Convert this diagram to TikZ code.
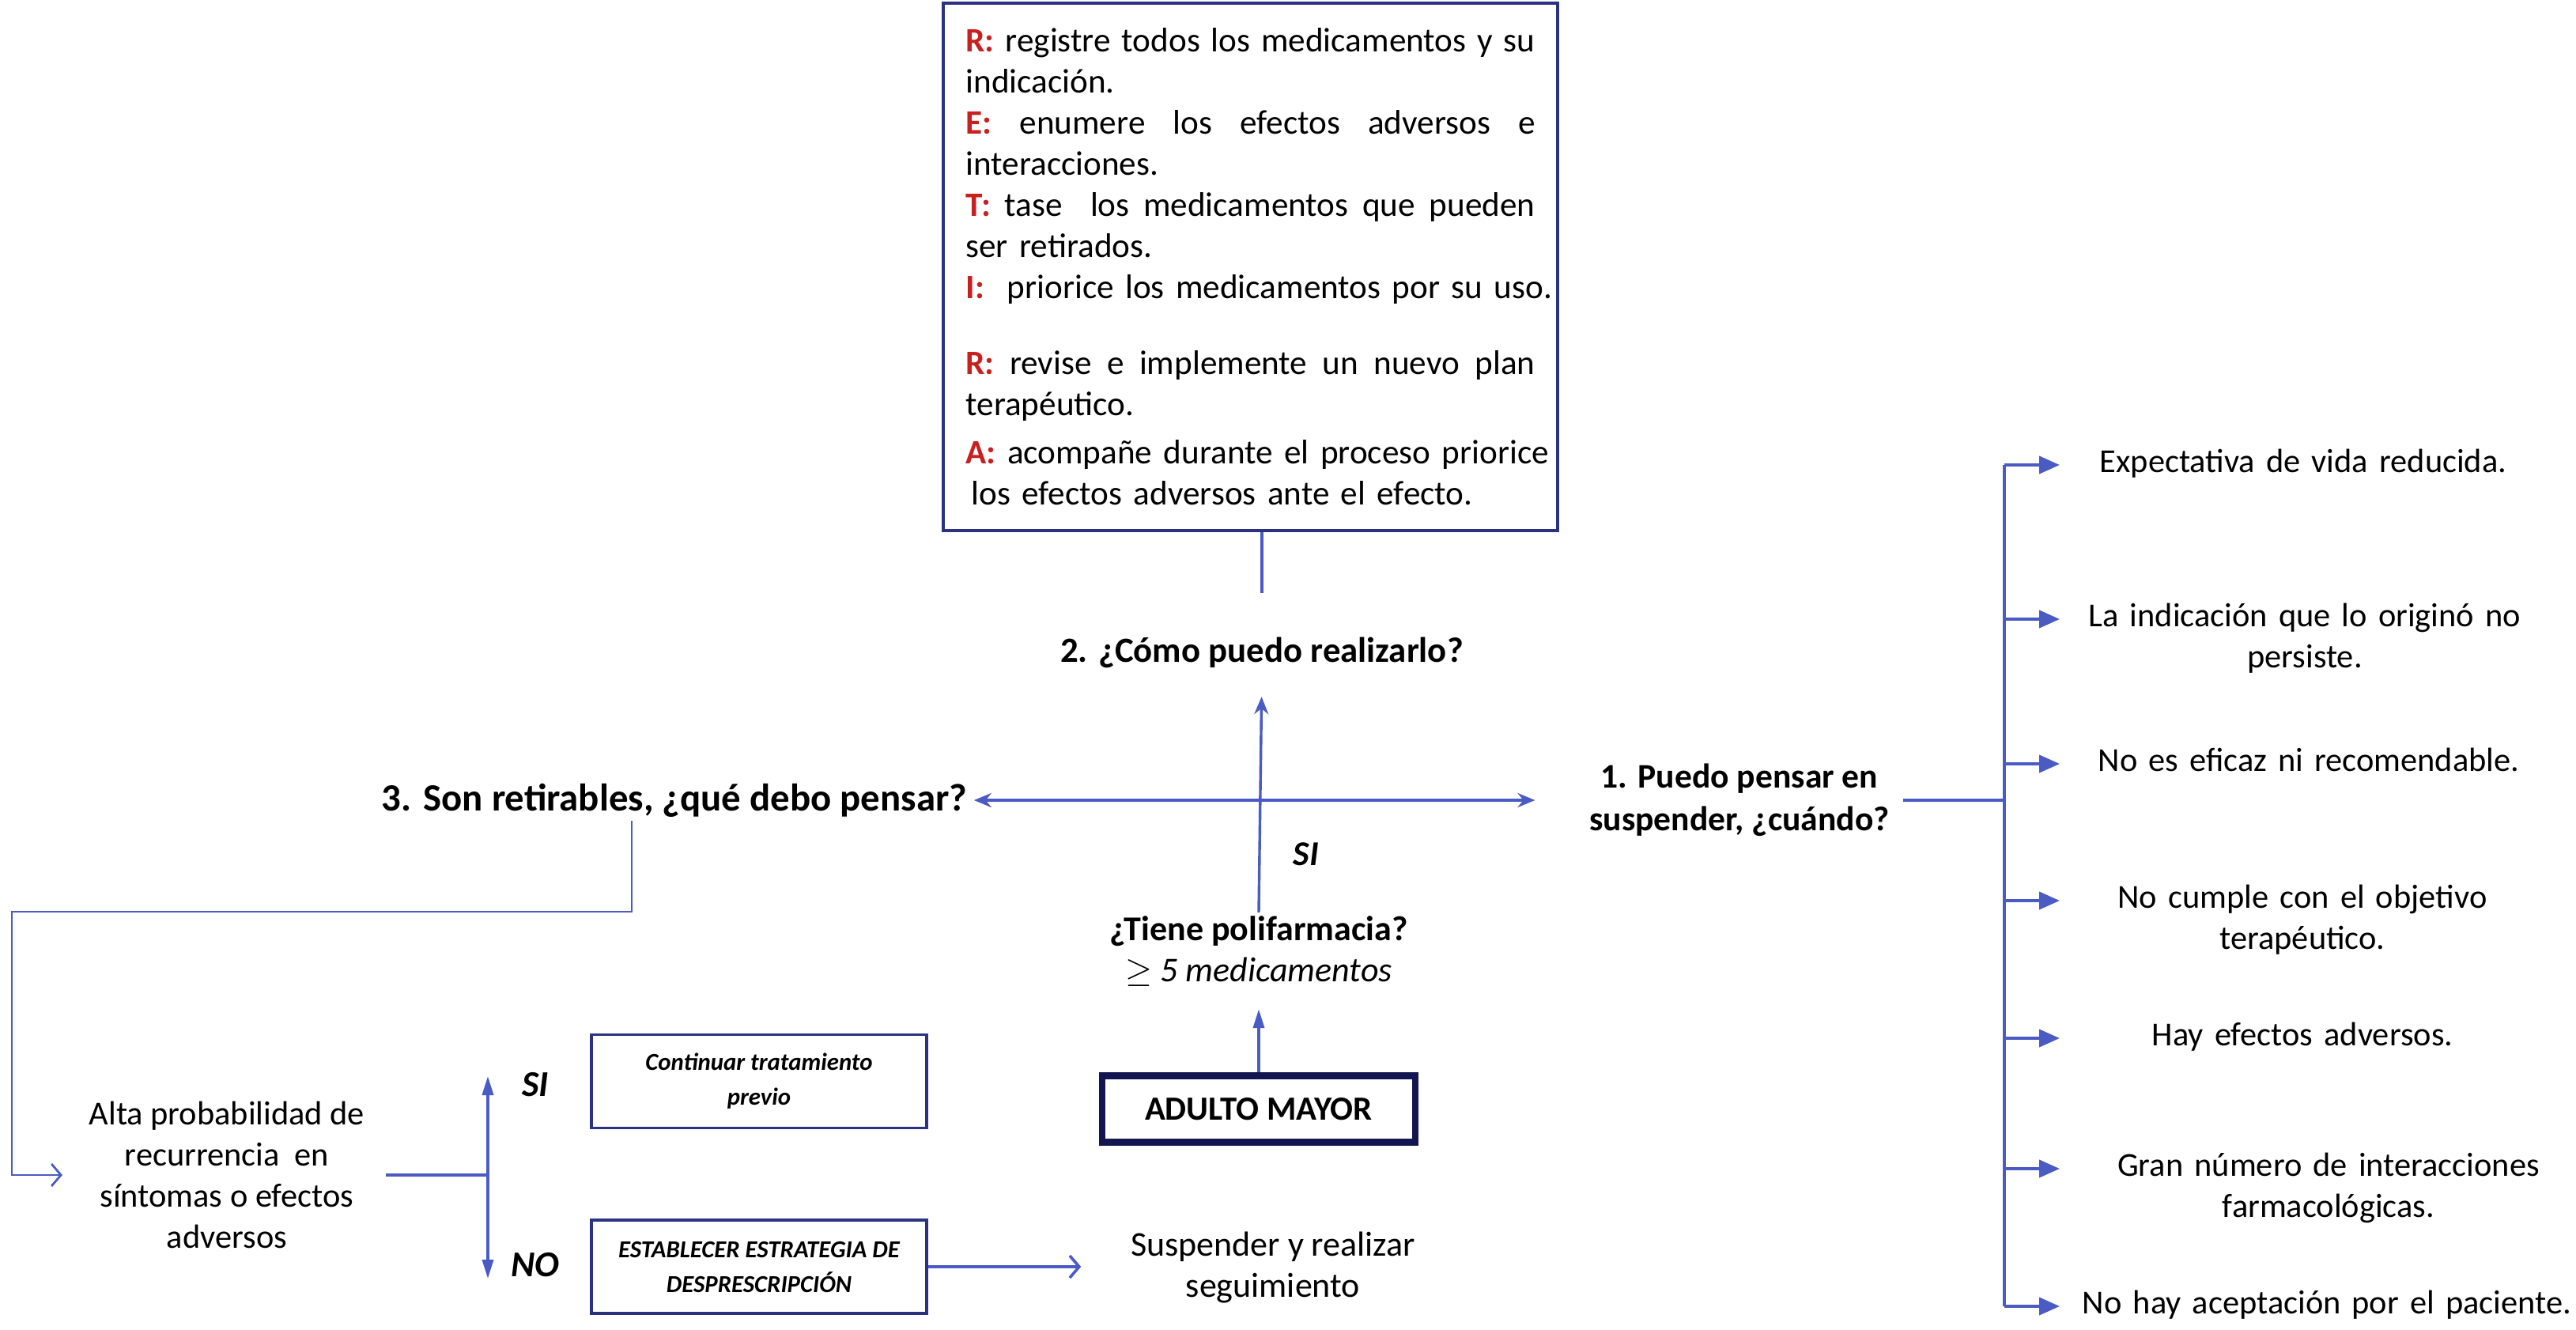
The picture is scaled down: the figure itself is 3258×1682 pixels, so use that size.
\documentclass[tikz,border=0pt]{standalone}
\usepackage{fontspec}
\setmainfont{Carlito}
\usepackage{tikz}
\usetikzlibrary{arrows.meta}
\definecolor{flecha}{HTML}{4A5BC4}
\definecolor{marco}{HTML}{2B3380}
\definecolor{marcof}{HTML}{12154F}
\definecolor{rojo}{HTML}{C8201E}
\newcommand{\letra}[1]{\textcolor{rojo}{\textbf{#1}}}
\newlength{\anchoret}
\setlength{\anchoret}{180pt}
\newcommand{\just}[1]{{\spaceskip=0pt\relax\xspaceskip=0pt\relax\makebox[\anchoret][s]{#1}}}
\newcommand{\linea}[1]{\makebox[\anchoret][l]{#1}}

\begin{document}
\begin{tikzpicture}[
  x=0.25pt, y=-0.25pt,
  txt/.style={font=\fontsize{10.6}{13}\selectfont, inner sep=1pt, align=center},
  pregunta/.style={font=\fontsize{11.2}{14}\selectfont\bfseries, inner sep=1pt, align=center},
  item/.style={txt, text width=170pt, anchor=mid, inner sep=0pt},
  retbox/.style={draw=marco, line width=1pt, text width=\anchoret, inner xsep=7.1pt,
                 minimum height=166.75pt, align=left, font=\fontsize{10.8}{13}\selectfont},
  accion/.style={draw=marco, line width=0.9pt, minimum width=106pt, minimum height=29.5pt,
                 align=center, font=\fontsize{7.7}{11}\selectfont\bfseries\itshape},
  inicio/.style={draw=marcof, line width=2.2pt, minimum width=99pt, minimum height=21pt,
                 font=\fontsize{10.7}{14}\selectfont\bfseries},
  sino/.style={font=\fontsize{11.5}{14}\selectfont\bfseries\itshape, inner sep=1pt},
  linea/.style={draw=flecha, line width=0.85pt},
  cruz/.style={linea, line width=1pt,
               {Stealth[length=5.5pt,width=4.5pt,inset=1.8pt]}-{Stealth[length=5.5pt,width=4.5pt,inset=1.8pt]}},
  sube/.style={linea, -{Stealth[length=5.5pt,width=4.5pt,inset=1.8pt]}},
  punta/.style={linea, line width=1pt, -{Triangle[length=6.5pt,width=5.5pt]}},
  puntaf/.style={linea, line width=0.9pt, -{Triangle[length=6pt,width=3.5pt]}},
  barba/.style={linea, line width=0.9pt, -{Straight Barb[length=3pt,width=7pt]}}
]
\useasboundingbox (0,0) rectangle (3258,1682);

% centro
\node[retbox] (retira) at (1581.5,337.5) {%
  \just{\letra{R:} registre todos los medicamentos y su}\\
  indicación.\\
  \just{\letra{E:} enumere los efectos adversos e}\\
  interacciones.\\
  \just{\letra{T:} tase\ \ los medicamentos que pueden}\\
  ser retirados.\\
  \linea{\letra{I:}\ \ priorice los medicamentos por su uso.}\\[11pt]
  \just{\letra{R:} revise e implemente un nuevo plan}\\
  terapéutico.\\[2.25pt]
  \linea{\letra{A:} acompañe durante el proceso priorice}\\
  \linea{\,los efectos adversos ante el efecto.}};
\node[pregunta] (como) at (1596,825) {2. ¿Cómo puedo realizarlo?};
\node[pregunta, font=\fontsize{12.2}{14}\selectfont\bfseries] (retirables) at (853,1012) {3. Son retirables, ¿qué debo pensar?};
\node[pregunta, font=\fontsize{10.9}{13.5}\selectfont\bfseries] (suspender) at (2200,1012) {1. Puedo pensar en\\suspender, ¿cuándo?};
\node[sino, font=\fontsize{11}{14}\selectfont\bfseries\itshape] (si) at (1652,1080) {SI};
\node[txt, font=\fontsize{11}{13}\selectfont] (poli) at (1592,1203) {\textbf{¿Tiene polifarmacia?}\\\textit{$\geq$ 5 medicamentos}};
\node[inicio] (adulto) at (1592,1402.5) {ADULTO MAYOR};

\draw[linea] (retira.south -| como) -- ++(0,77);
\draw[sube, shorten >=8pt] (poli.north) -- (como.south);
\draw[cruz, shorten <=1pt, shorten >=16pt] (retirables.east) -- (suspender.west);
\draw[puntaf, shorten >=6pt] (adulto.north) -- (poli.south);

% derecha
\coordinate (tronco) at (2535,1012);
\foreach \i/\xx/\yy/\texto in {
  1/2913/588/{Expectativa de vida reducida.},
  2/2915/783/{La indicación que lo originó no\\persiste.},
  3/2920/966/{No es eficaz ni recomendable.},
  4/2912/1139/{No cumple con el objetivo\\terapéutico.},
  5/2912/1313/{Hay efectos adversos.},
  6/2945/1478/{Gran número de interacciones\\farmacológicas.},
  7/2943/1652/{No hay aceptación por el paciente.}}{
  \node[item] (e\i) at (\xx,\yy) {\texto};
  \draw[punta] (tronco |- e\i.mid) -- ([xshift=17.5pt]tronco |- e\i.mid);
}
\draw[linea, shorten <=3pt] (suspender.east) -- (tronco);
\draw[linea] (tronco |- e1.mid) -- (tronco |- e7.mid);

% izquierda
\node[txt] (alta) at (287,1486) {Alta probabilidad de\\recurrencia\ \ en\\síntomas o efectos\\adversos};
\node[sino] (sino1) at (677,1372) {SI};
\node[sino] (sino2) at (677,1600) {NO};
\node[accion] (cont) at (960,1367.5) {Continuar tratamiento\\previo};
\node[accion] (estab) at (960,1602) {ESTABLECER ESTRATEGIA DE\\DESPRESCRIPCIÓN};
\node[txt, font=\fontsize{11}{13}\selectfont] (susp) at (1610,1603) {Suspender y realizar\\seguimiento};

\coordinate (esq) at (15,1153);
\coordinate (rama) at (617,1486);
\coordinate (arr) at (617,1361);
\coordinate (aba) at (617,1617);
\draw[barba, line width=0.7pt, shorten >=7.25pt] ([xshift=-13.5pt]retirables.south) |- (esq) |- (alta.west);
\draw[linea, shorten <=5.5pt] (alta.east) -- (rama);
\draw[puntaf] (rama) -- (arr);
\draw[puntaf] (rama) -- (aba);
\draw[barba, shorten >=14.5pt] (estab.east) -- (estab.east -| susp.west);

\end{tikzpicture}
\end{document}
